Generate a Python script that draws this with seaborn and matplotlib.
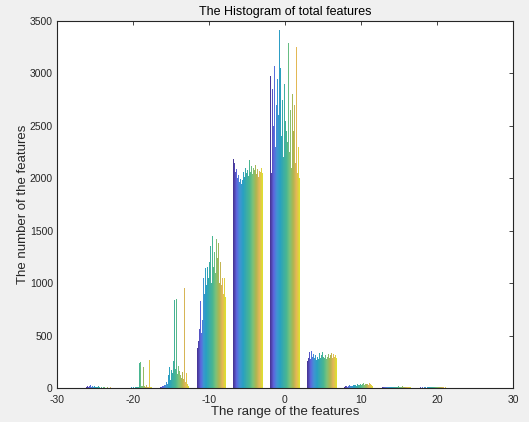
import numpy as np
import pandas as pd
import matplotlib.pyplot as plt
import seaborn as sns
from matplotlib.colors import LinearSegmentedColormap

# centres des 11 classes de l'histogramme
bin_centers = [-24.3, -19.4, -14.6, -9.7, -4.86, 0.0, 4.86, 9.7, 14.6, 19.4, 24.3]

# hauteur de chaque colonne (30 colonnes) dans chaque classe
bin_01 = [12, 20, 8, 15, 25, 10, 18, 6, 14, 22, 9, 5, 12, 16, 7, 4, 8, 3, 6, 10, 4, 2, 5, 3, 2, 6, 3, 2, 1, 2]
bin_02 = [0, 2, 0, 3, 1, 0, 4, 2, 5, 3, 8, 4, 6, 10, 5, 12, 240, 30, 250, 15, 20, 200, 18, 10, 25, 12, 8, 265, 10, 5]
bin_03 = [0, 5, 10, 15, 20, 30, 25, 60, 40, 120, 200, 80, 170, 140, 260, 840, 180, 850, 130, 210,
          160, 120, 100, 150, 90, 950, 60, 140, 40, 20]
bin_04 = [380, 450, 560, 830, 520, 650, 720, 1050, 900, 1140, 980, 1150, 1050, 1200, 1350, 1000,
          1450, 1150, 1300, 1100, 1420, 1240, 1380, 1000, 1200, 980, 1050, 900, 1050, 870]
bin_05 = [2180, 2150, 2060, 2090, 2000, 2030, 1960, 1990, 1950, 1980, 2060, 2010, 2100, 2050, 2080,
          2020, 2170, 2060, 2120, 2040, 2100, 2080, 2130, 2040, 2090, 2010, 2070, 2060, 2100, 2050]
bin_06 = [2980, 2050, 2850, 2500, 3070, 2300, 2700, 2950, 2600, 3410, 3050, 2400, 2750, 2200, 2900,
          2550, 2450, 2350, 3290, 2250, 2650, 2100, 2800, 2450, 2700, 2150, 3250, 2050, 2300, 2000]
bin_07 = [260, 290, 340, 280, 350, 300, 320, 290, 310, 270, 300, 280, 330, 290, 310, 340, 300, 290,
          310, 280, 300, 320, 290, 310, 330, 290, 320, 300, 310, 290]
bin_08 = [10, 15, 20, 12, 18, 25, 20, 15, 22, 28, 30, 25, 20, 35, 30, 25, 40, 30, 35, 45, 30, 40,
          35, 50, 40, 30, 45, 35, 25, 20]
bin_09 = [4, 6, 5, 8, 6, 7, 9, 8, 10, 7, 12, 9, 10, 14, 11, 9, 12, 15, 10, 13, 11, 16, 12, 10, 14,
          11, 9, 12, 8, 6]
bin_10 = [3, 4, 5, 3, 6, 4, 5, 7, 4, 6, 5, 8, 6, 5, 7, 6, 9, 5, 7, 6, 8, 5, 6, 9, 7, 5, 6, 4, 5, 3]
bin_11 = [1, 2, 1, 3, 2, 1, 2, 3, 2, 1, 2, 3, 2, 2, 1, 3, 2, 2, 1, 2, 3, 2, 1, 2, 2, 1, 2, 1, 1, 1]

BINS = [bin_01, bin_02, bin_03, bin_04, bin_05, bin_06, bin_07, bin_08, bin_09, bin_10, bin_11]

# quelques points de la palette "parula" de MATLAB
PARULA = [
    (0.2422, 0.1504, 0.6603), (0.2810, 0.3228, 0.9579), (0.1540, 0.5902, 0.9218),
    (0.0590, 0.6838, 0.8584), (0.1540, 0.7468, 0.7238), (0.2161, 0.7843, 0.5923),
    (0.4420, 0.8046, 0.4238), (0.7248, 0.7819, 0.2521), (0.9856, 0.7372, 0.2537),
    (0.9769, 0.9839, 0.0805),
]


def construire_df():
    lignes = []
    for centre, hauteurs in zip(bin_centers, BINS):
        for i, h in enumerate(hauteurs):
            lignes.append({"centre": centre, "colonne": f"c{i:02d}", "nombre": h})
    return pd.DataFrame(lignes)


def main():
    df = construire_df()
    colonnes = [f"c{i:02d}" for i in range(len(bin_01))]
    cmap = LinearSegmentedColormap.from_list("parula", PARULA)
    palette = [cmap(v) for v in np.linspace(0, 1, len(colonnes))]

    sns.set_style("white")
    plt.rcParams["font.family"] = ["Liberation Sans", "DejaVu Sans"]
    plt.rcParams["axes.unicode_minus"] = False

    fig = plt.figure(figsize=(5.29, 4.22), dpi=100, facecolor="#f0f0f0")
    ax = fig.add_axes([57 / 529, 1 - 388 / 422, 456 / 529, 367 / 422])
    sns.barplot(
        data=df, x="centre", y="nombre", hue="colonne", hue_order=colonnes,
        palette=palette, native_scale=True, width=0.8, linewidth=0,
        legend=False, errorbar=None, ax=ax
    )
    ax.set_xlim(-30, 30)
    ax.set_ylim(0, 3500)
    ax.set_xticks(range(-30, 31, 10))
    ax.set_yticks(range(0, 3501, 500))
    ax.tick_params(direction="in", length=3, width=0.6, labelsize=7.5, colors="#262626",
                   top=True, right=True, pad=3)
    ax.tick_params(axis="x", pad=5)
    for s in ax.spines.values():
        s.set_color("#262626")
        s.set_linewidth(0.8)
    ax.set_title("The Histogram of total features", fontsize=9, color="black", pad=4)
    ax.set_xlabel("The range of the features", fontsize=9.5, labelpad=1)
    ax.set_ylabel("The number of the features", fontsize=9.5)
    ax.yaxis.set_label_coords(-0.062, 0.5)
    fig.savefig("out.png", dpi=100, facecolor=fig.get_facecolor())


if __name__ == "__main__":
    main()
